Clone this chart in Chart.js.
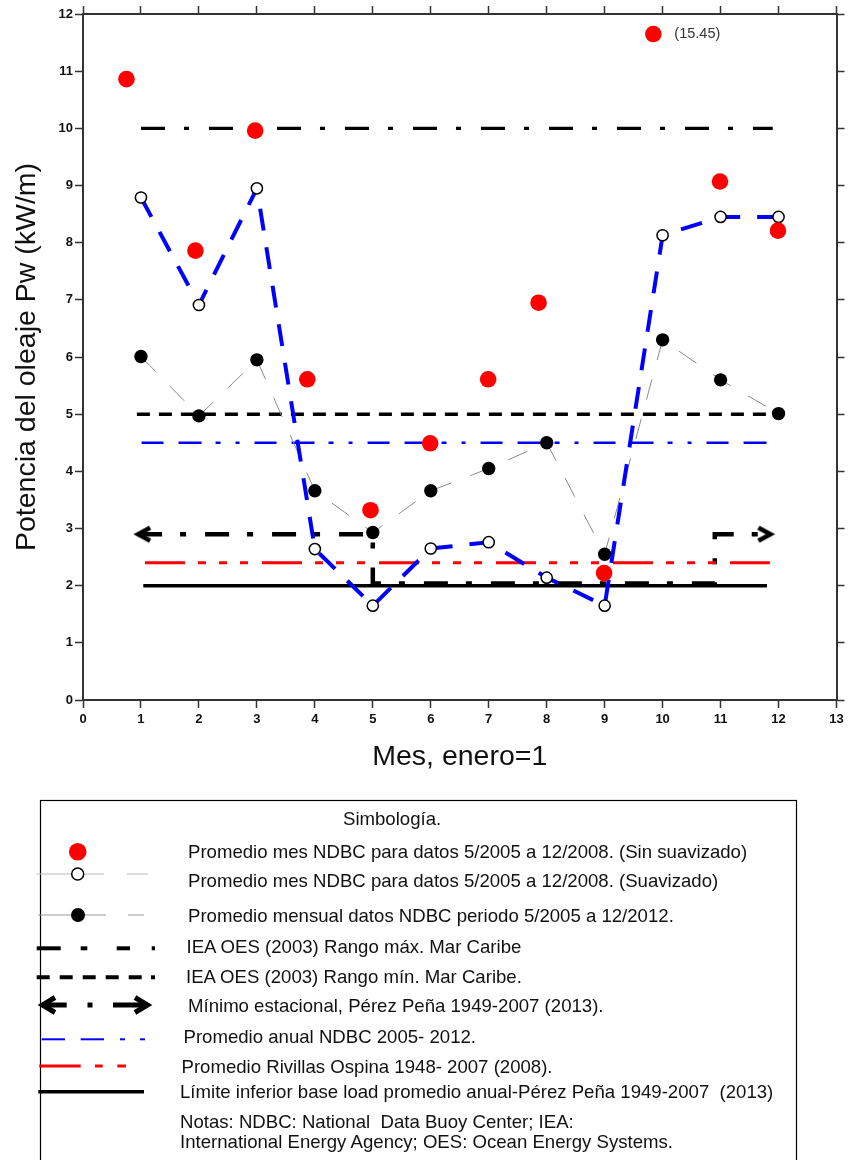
<!DOCTYPE html>
<html>
<head>
<meta charset="utf-8">
<script src="https://cdn.jsdelivr.net/npm/chart.js@4/dist/chart.umd.min.js"></script>
<style>
  html, body { margin:0; padding:0; background:#fff; }
  #wrap { position:relative; width:849px; height:1160px; overflow:hidden; }
  #grafica { position:absolute; left:0; top:0; }
  #leyenda { position:absolute; left:0; top:0; pointer-events:none; }
  #leyenda text { white-space:pre; }
</style>
</head>
<body>
<div id="wrap">
  <canvas id="grafica" width="849" height="790"></canvas>
  <svg id="leyenda" width="849" height="1160" xmlns="http://www.w3.org/2000/svg" xml:space="preserve"></svg>
</div>
<script>
// Potencia del oleaje por mes (kW/m)
const meses = [1, 2, 3, 4, 5, 6, 7, 8, 9, 10, 11, 12];

// Promedio mes NDBC 5/2005-12/2008, sin suavizar (puntos rojos, desplazados del mes)
const sinSuavX = [0.75, 1.94, 2.97, 3.87, 4.96, 5.99, 6.99, 7.86, 8.99, 9.84, 10.99, 11.99];
const sinSuavY = [10.86, 7.86, 9.96, 5.61, 3.32, 4.49, 5.61, 6.95, 2.22, 15.45, 9.07, 8.21];

// Promedio mes NDBC 5/2005-12/2008, suavizado
const suavY = [8.79, 6.91, 8.95, 2.64, 1.65, 2.65, 2.76, 2.14, 1.65, 8.13, 8.45, 8.45];

// Promedio mensual NDBC 5/2005-12/2012
const mensualY = [6.01, 4.97, 5.95, 3.66, 2.93, 3.66, 4.05, 4.50, 2.55, 6.30, 5.60, 5.01];

// Niveles de referencia
const ieaMaxX = [1, 11.9],     ieaMaxY = [10, 10];
const ieaMinX = [0.93, 12],    ieaMinY = [5, 5];
const anualX = [1.01, 11.85],  anualY = [4.5, 4.5];
const rivillasX = [1.07, 11.85], rivillasY = [2.4, 2.4];
const baseX = [1.04, 11.8],    baseY = [2, 2];
const minEstX = [0.95, 5, 5, 10.9, 10.9, 11.86];
const minEstY = [2.9, 2.9, 2.04, 2.04, 2.9, 2.9];

const xTicks = { min: 0, max: 13, step: 1 };
const yTicks = { min: 0, max: 12, step: 1 };
// valores fuera de escala se dibujan junto al borde superior con su valor anotado
const TOPE_Y = 11.65;

const FUENTE = "'Liberation Sans', Arial, Helvetica, sans-serif";
Chart.defaults.font.family = FUENTE;

const pares = (xs, ys) => xs.map((x, i) => ({ x, y: ys[i] }));

// punta de flecha como imagen; la punta queda en el centro del lienzo
function flecha(dir) {
  const c = document.createElement('canvas');
  c.width = 40; c.height = 22;
  const g = c.getContext('2d');
  g.strokeStyle = '#000'; g.lineWidth = 4.5; g.lineJoin = 'miter'; g.lineCap = 'butt';
  g.beginPath();
  g.moveTo(20 + dir * 12, 4.5);
  g.lineTo(20, 11);
  g.lineTo(20 + dir * 12, 17.5);
  g.stroke();
  return c;
}
const flechaIzq = flecha(1), flechaDer = flecha(-1);

const ejeBase = (extra) => Object.assign({
  type: 'linear',
  grid: { drawOnChartArea: false, drawTicks: true, tickLength: 8, color: '#333', tickColor: '#333', tickWidth: 1.5 },
  border: { display: true, color: '#333', width: 2 },
}, extra);

const fueraEscala = {
  id: 'fueraEscala',
  afterDatasetsDraw(chart) {
    const meta = chart.getDatasetMeta(0);
    const ctx = chart.ctx;
    ctx.save();
    ctx.font = '14.5px ' + FUENTE;
    ctx.fillStyle = '#333';
    ctx.textBaseline = 'middle';
    sinSuavY.forEach((v, i) => {
      if (v > yTicks.max) {
        const p = meta.data[i];
        ctx.fillText('(' + v.toFixed(2) + ')', p.x + 21, p.y);
      }
    });
    ctx.restore();
  }
};

new Chart(document.getElementById('grafica'), {
  type: 'scatter',
  data: {
    datasets: [
      { label: 'Sin suavizado', data: pares(sinSuavX, sinSuavY.map(v => Math.min(v, TOPE_Y))),
        pointRadius: 8.3, pointBackgroundColor: '#ff0000', pointBorderWidth: 0, order: 1 },
      { label: 'Suavizado', data: pares(meses, suavY), showLine: true,
        borderColor: '#0000ff', borderWidth: 4, borderDash: [22, 17], borderCapStyle: 'butt',
        pointRadius: 5.6, pointBackgroundColor: '#fff', pointBorderColor: '#000', pointBorderWidth: 1.5, order: 2 },
      { label: 'Mensual 2005-2012', data: pares(meses, mensualY), showLine: true,
        borderColor: '#8a8a8a', borderWidth: 1, borderDash: [21, 20],
        pointRadius: 6.7, pointBackgroundColor: '#000', pointBorderWidth: 0, order: 3 },
      { label: 'IEA máx', data: pares(ieaMaxX, ieaMaxY), showLine: true,
        borderColor: '#000', borderWidth: 3.3, borderDash: [24, 19, 5, 20], pointRadius: 0, order: 4 },
      { label: 'IEA mín', data: pares(ieaMinX, ieaMinY), showLine: true,
        borderColor: '#000', borderWidth: 3.5, borderDash: [13, 9], pointRadius: 0, order: 5 },
      { label: 'Anual NDBC', data: pares(anualX, anualY), showLine: true,
        borderColor: '#0000ff', borderWidth: 2.3, borderDash: [22, 15, 23, 14, 5, 15, 4, 15], pointRadius: 0, order: 6 },
      { label: 'Rivillas', data: pares(rivillasX, rivillasY), showLine: true,
        borderColor: '#ff0000', borderWidth: 3, borderDash: [40, 13, 8, 13, 8, 13, 8, 14], pointRadius: 0, order: 7 },
      { label: 'Mínimo estacional', data: pares(minEstX, minEstY), showLine: true,
        borderColor: '#000', borderWidth: 4.5, borderDash: [24, 18, 6, 19], borderJoinStyle: 'miter',
        pointStyle: minEstX.map((_, i) => i === 0 ? flechaIzq : (i === minEstX.length - 1 ? flechaDer : 'circle')),
        pointRadius: minEstX.map((_, i) => (i === 0 || i === minEstX.length - 1) ? 8 : 0), order: 8 },
      { label: 'Base load', data: pares(baseX, baseY), showLine: true,
        borderColor: '#000', borderWidth: 3.5, pointRadius: 0, order: 9 },
    ]
  },
  options: {
    responsive: false,
    animation: false,
    events: [],
    layout: { padding: 0 },
    plugins: { legend: { display: false }, tooltip: { enabled: false } },
    scales: {
      x: ejeBase({
        position: 'bottom', min: xTicks.min, max: xTicks.max,
        ticks: { stepSize: xTicks.step, color: '#111', padding: 4, font: { size: 13, weight: 'bold' } },
        title: { display: true, text: 'Mes, enero=1', color: '#111', font: { size: 28.5 }, padding: { top: 0, bottom: 16 } },
        afterFit: s => { s.height = 90; }
      }),
      x2: ejeBase({
        position: 'top', min: xTicks.min, max: xTicks.max,
        ticks: { stepSize: xTicks.step, display: false },
        afterFit: s => { s.height = 14; }
      }),
      y: ejeBase({
        position: 'left', min: yTicks.min, max: yTicks.max,
        ticks: { stepSize: yTicks.step, color: '#111', padding: 2, font: { size: 13, weight: 'bold' } },
        title: { display: true, text: 'Potencia del oleaje Pw (kW/m)', color: '#111', font: { size: 28.5 }, padding: { top: 10, bottom: 0 } },
        afterFit: s => { s.width = 83; }
      }),
      y2: ejeBase({
        position: 'right', min: yTicks.min, max: yTicks.max,
        ticks: { stepSize: yTicks.step, display: false },
        afterFit: s => { s.width = 11; }
      }),
    }
  },
  plugins: [fueraEscala]
});

// Cuadro de simbología
const filas = [
  { t: 'Promedio mes NDBC para datos 5/2005 a 12/2008. (Sin suavizado)', x: 188, y: 858 },
  { t: 'Promedio mes NDBC para datos 5/2005 a 12/2008. (Suavizado)', x: 188, y: 886.5 },
  { t: 'Promedio mensual datos NDBC periodo 5/2005 a 12/2012.', x: 188, y: 921.5 },
  { t: 'IEA OES (2003) Rango máx. Mar Caribe', x: 186.5, y: 953 },
  { t: 'IEA OES (2003) Rango mín. Mar Caribe.', x: 186, y: 983 },
  { t: 'Mínimo estacional, Pérez Peña 1949-2007 (2013).', x: 188, y: 1011.5 },
  { t: 'Promedio anual NDBC 2005- 2012.', x: 183.5, y: 1043 },
  { t: 'Promedio Rivillas Ospina 1948- 2007 (2008).', x: 181.5, y: 1073 },
  { t: 'Límite inferior base load promedio anual-Pérez Peña 1949-2007  (2013)', x: 180, y: 1098 },
  { t: 'Notas: NDBC: National  Data Buoy Center; IEA:', x: 180, y: 1128 },
  { t: 'International Energy Agency; OES: Ocean Energy Systems.', x: 180, y: 1148 },
];

const seg = (x1, x2, y, color, w, extra = '') =>
  `<line x1="${x1}" y1="${y}" x2="${x2}" y2="${y}" stroke="${color}" stroke-width="${w}" ${extra}/>`;

const muestras = `
  <circle cx="77.7" cy="851.7" r="8.8" fill="#ff0000"/>
  ${seg(36.7, 104, 874, '#bbb', 1)}${seg(126.7, 148, 874, '#bbb', 1)}
  <circle cx="77.7" cy="874" r="6" fill="#fff" stroke="#000" stroke-width="1.5"/>
  ${seg(38, 106, 915, '#999', 1)}${seg(128, 144, 915, '#999', 1)}
  <circle cx="78" cy="915" r="7" fill="#000"/>
  ${seg(36.7, 60.7, 948.3, '#000', 4)}${seg(80.7, 87.3, 948.3, '#000', 4)}
  ${seg(116.7, 130, 948.3, '#000', 4)}${seg(151.7, 155, 948.3, '#000', 4)}
  ${seg(36.7, 141.7, 977.3, '#000', 4, 'stroke-dasharray="13 10"')}${seg(151, 155, 977.3, '#000', 4)}
  ${seg(42.5, 66.7, 1005, '#000', 5)}${seg(87.5, 92.5, 1005, '#000', 5)}${seg(113, 146, 1005, '#000', 5)}
  <polyline points="55,997.5 42.5,1005 55,1012.5" fill="none" stroke="#000" stroke-width="5"/>
  <polyline points="135,997.5 147.5,1005 135,1012.5" fill="none" stroke="#000" stroke-width="5"/>
  ${seg(41.7, 65, 1039.3, '#0000ff', 2)}${seg(80.7, 104, 1039.3, '#0000ff', 2)}
  ${seg(120, 125, 1039.3, '#0000ff', 2)}${seg(140, 145, 1039.3, '#0000ff', 2)}
  ${seg(39.3, 80.7, 1066, '#ff0000', 3)}${seg(95, 102.7, 1066, '#ff0000', 3)}${seg(117.3, 126, 1066, '#ff0000', 3)}
  ${seg(38.3, 144, 1091.7, '#000', 3.5)}
`;

const fam = FUENTE.replace(/'/g, '');
document.getElementById('leyenda').innerHTML = `
  <rect x="40.5" y="800.5" width="756" height="400" fill="none" stroke="#000" stroke-width="1.2"/>
  <text x="343" y="825" font-family="${fam}" font-size="18.6" fill="#111">Simbología.</text>
  ${muestras}
  ${filas.map(f => `<text x="${f.x}" y="${f.y}" font-family="${fam}" font-size="18.6" fill="#111">${f.t}</text>`).join('')}
`;
</script>
</body>
</html>
